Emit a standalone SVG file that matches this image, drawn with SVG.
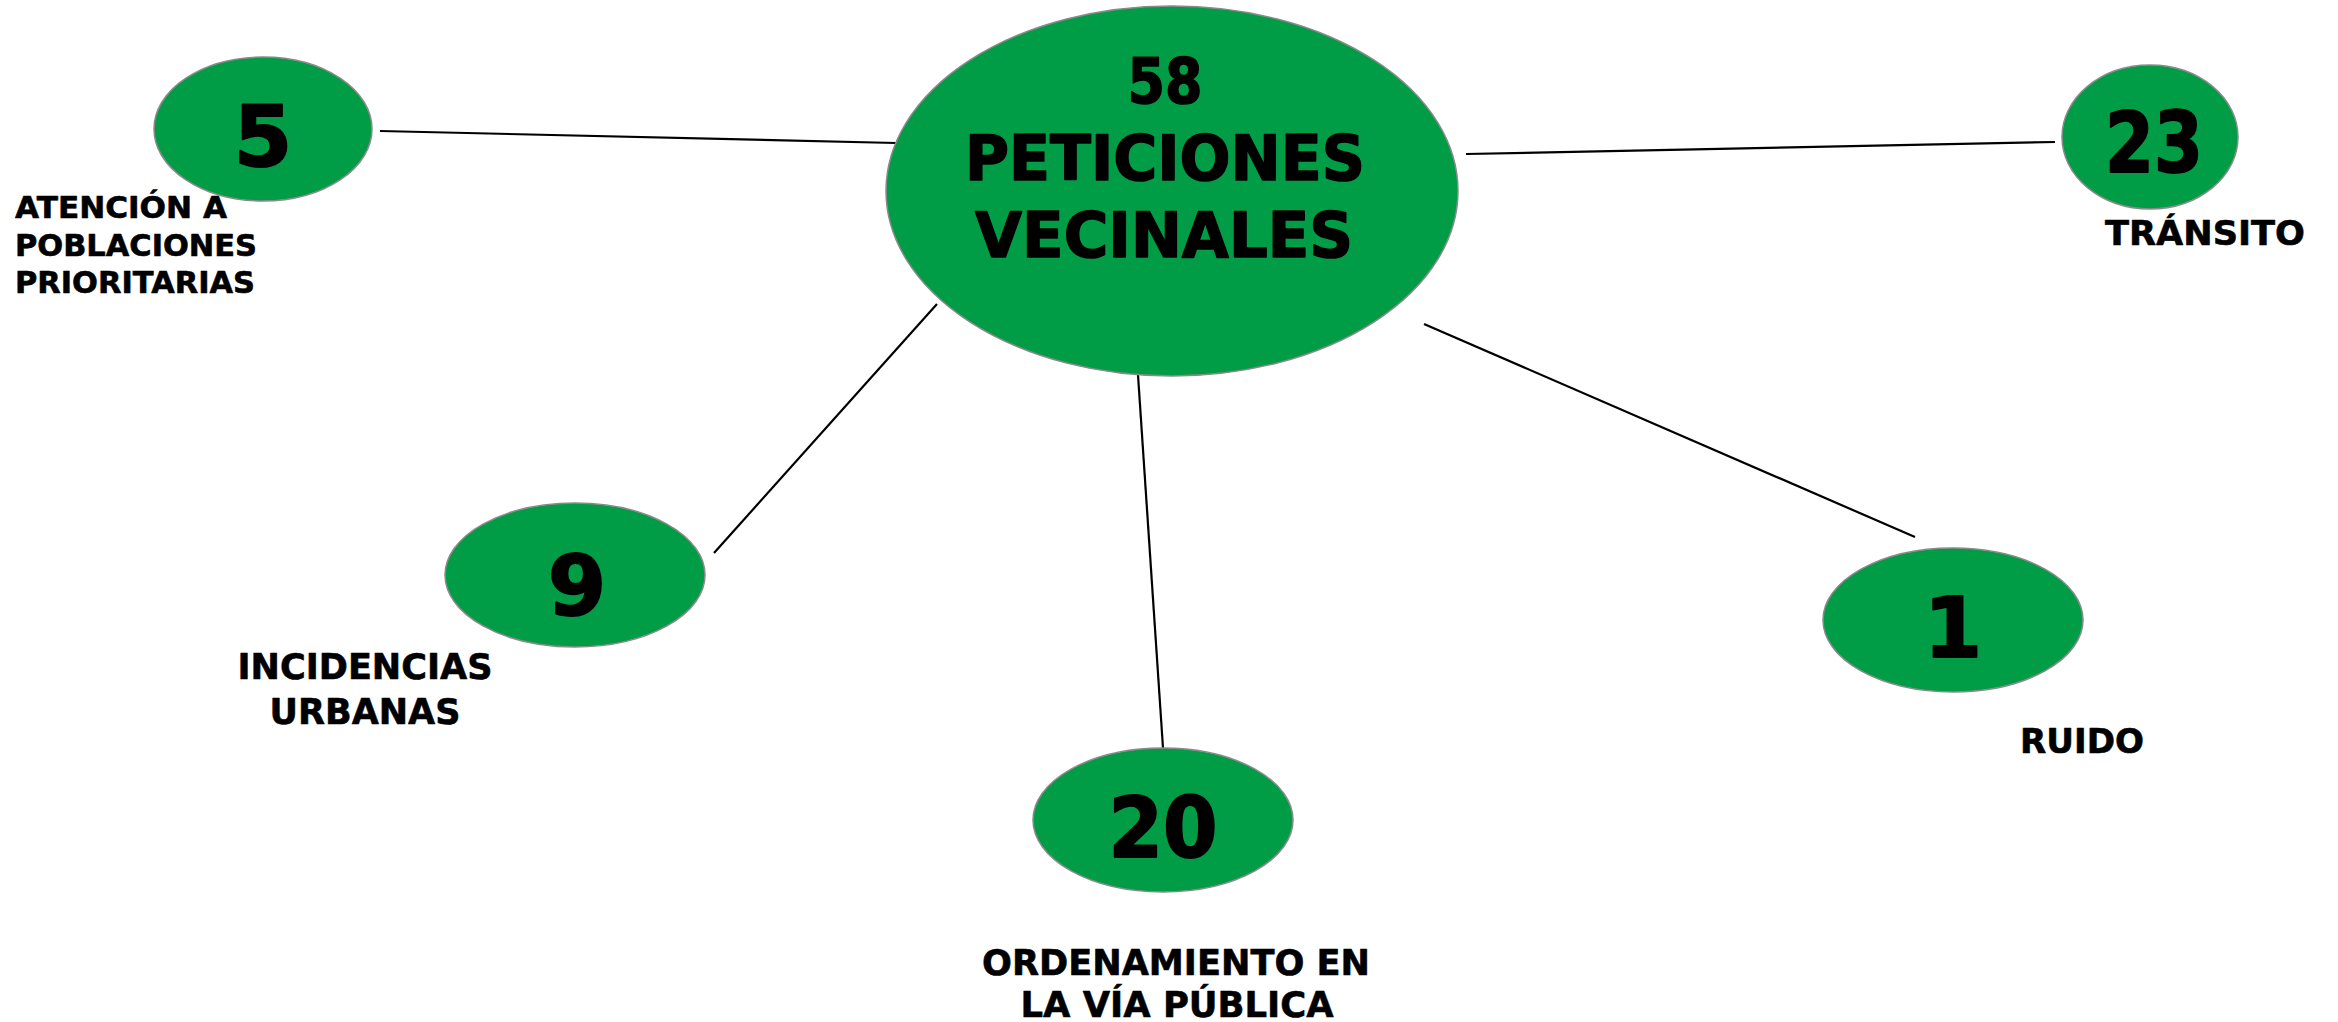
<svg xmlns="http://www.w3.org/2000/svg" width="2338" height="1022" viewBox="0 0 2338 1022">
<style>
  .node { fill: #009d46; stroke: #8a8a8a; stroke-width: 1.5; }
  .edge { stroke: #000; stroke-width: 2.2; fill: none; }
  text { font-family: "DejaVu Sans", "Liberation Sans", sans-serif; font-weight: 700; fill: #000; stroke: #000; stroke-linejoin: round; }
  .num { font-size: 84px; text-anchor: middle; stroke-width: 2; }
  .title { font-size: 62px; text-anchor: middle; stroke-width: 1.6; }
  .lbl { font-size: 30px; stroke-width: 0.6; }
  .lblc { font-size: 35px; text-anchor: middle; stroke-width: 0.6; }
  .lblm { font-size: 34px; stroke-width: 0.6; }
</style>
<rect width="2338" height="1022" fill="#ffffff"/>
<g id="connectors">
  <line class="edge" x1="380" y1="131" x2="896" y2="143"/>
  <line class="edge" x1="1466" y1="154" x2="2055" y2="142"/>
  <line class="edge" x1="937" y1="304" x2="714" y2="553"/>
  <line class="edge" x1="1138" y1="375" x2="1163" y2="748"/>
  <line class="edge" x1="1424" y1="324" x2="1915" y2="537"/>
</g>
<g id="node-center">
  <ellipse class="node" cx="1172" cy="191" rx="286" ry="185"/>
  <text class="title" x="1165" y="103" textLength="75" lengthAdjust="spacingAndGlyphs">58</text>
  <text class="title" x="1165" y="180" textLength="400" lengthAdjust="spacingAndGlyphs">PETICIONES</text>
  <text class="title" x="1164" y="257" textLength="378" lengthAdjust="spacingAndGlyphs">VECINALES</text>
</g>
<g id="node-5">
  <ellipse class="node" cx="263" cy="129" rx="109" ry="72"/>
  <text class="num" x="263" y="166">5</text>
  <text class="lbl" x="15" y="218" textLength="212" lengthAdjust="spacingAndGlyphs">ATENCIÓN A</text>
  <text class="lbl" x="15" y="256" textLength="242" lengthAdjust="spacingAndGlyphs">POBLACIONES</text>
  <text class="lbl" x="15" y="293" textLength="240" lengthAdjust="spacingAndGlyphs">PRIORITARIAS</text>
</g>
<g id="node-23">
  <ellipse class="node" cx="2150" cy="137" rx="88" ry="72"/>
  <text class="num" x="2154" y="172" textLength="98" lengthAdjust="spacingAndGlyphs">23</text>
  <text class="lblm" x="2105" y="245" textLength="200" lengthAdjust="spacingAndGlyphs">TRÁNSITO</text>
</g>
<g id="node-9">
  <ellipse class="node" cx="575" cy="575" rx="130" ry="72"/>
  <text class="num" x="577" y="615">9</text>
  <text class="lblc" x="365" y="679" textLength="255" lengthAdjust="spacingAndGlyphs">INCIDENCIAS</text>
  <text class="lblc" x="365" y="724" textLength="191" lengthAdjust="spacingAndGlyphs">URBANAS</text>
</g>
<g id="node-20">
  <ellipse class="node" cx="1163" cy="820" rx="130" ry="72"/>
  <text class="num" x="1163" y="857" textLength="109" lengthAdjust="spacingAndGlyphs">20</text>
  <text class="lblc" x="1176" y="975" textLength="388" lengthAdjust="spacingAndGlyphs">ORDENAMIENTO EN</text>
  <text class="lblc" x="1177" y="1017" textLength="313" lengthAdjust="spacingAndGlyphs">LA VÍA PÚBLICA</text>
</g>
<g id="node-1">
  <ellipse class="node" cx="1953" cy="620" rx="130" ry="72"/>
  <text class="num" x="1953" y="657">1</text>
  <text class="lblm" x="2020" y="753" textLength="124" lengthAdjust="spacingAndGlyphs">RUIDO</text>
</g>
</svg>
